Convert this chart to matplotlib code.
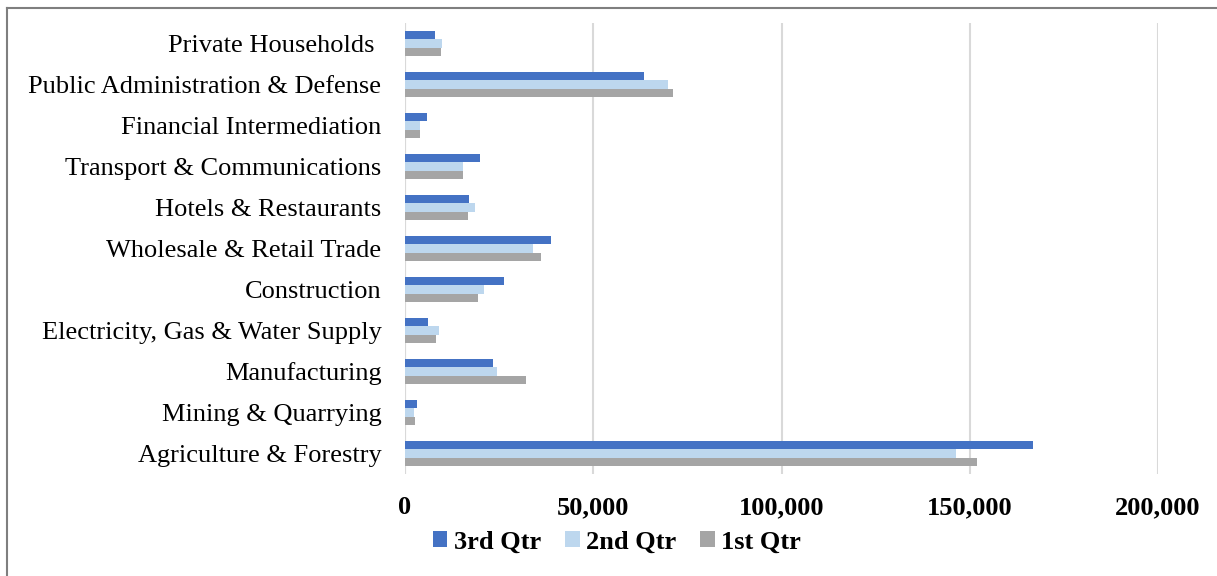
import numpy as np
import matplotlib.pyplot as plt
from matplotlib.lines import Line2D

# Employment by sector, three quarters
sectors = ['Private Households ', 'Public Administration & Defense', 'Financial Intermediation',
           'Transport & Communications', 'Hotels & Restaurants', 'Wholesale & Retail Trade',
           'Construction', 'Electricity, Gas & Water Supply', 'Manufacturing',
           'Mining & Quarrying', 'Agriculture & Forestry']
q3 = [8000, 63600, 5800, 19800, 17000, 38900, 26400, 6000, 23300, 3100, 166800]
q2 = [9800, 69900, 4100, 15500, 18500, 34100, 20900, 9000, 24500, 2300, 146300]
q1 = [9600, 71100, 4000, 15500, 16800, 36000, 19400, 8200, 32200, 2700, 152000]
series_names = ['3rd Qtr', '2nd Qtr', '1st Qtr']
colors = ['#4472C4', '#BDD7EE', '#A5A5A5']
xticks = [0, 50000, 100000, 150000, 200000]

plt.rcParams['font.family'] = ['Liberation Serif', 'DejaVu Serif']

fig = plt.figure(figsize=(12.17, 5.76), dpi=100)
ax = fig.add_axes([405/1217, 1 - 474/576, (1158-405)/1217, (474-23)/576])

y = np.arange(len(sectors))
h = 0.21
for i, (vals, name, c) in enumerate(zip([q3, q2, q1], series_names, colors)):
    ax.barh(y + (i - 1) * h, vals, height=h, color=c, label=name, zorder=3)

ax.set_ylim(len(sectors) - 0.5, -0.5)
ax.set_xlim(0, 200000)
ax.set_yticks(y)
ax.set_yticklabels(sectors, fontsize=19)
ax.set_xticks(xticks)
ax.set_xticklabels([f'{v:,}' for v in xticks], fontsize=19, fontweight='bold')
ax.tick_params(axis='y', length=0, pad=17)
ax.tick_params(axis='x', length=0, pad=16)
for s in ax.spines.values():
    s.set_visible(False)
ax.grid(axis='x', color='#D9D9D9', linewidth=1.5, zorder=0)
ax.axvline(0, color='#D9D9D9', linewidth=1.5, zorder=1)

fig.legend(loc='center', bbox_to_anchor=(617/1217, 1 - 542/576), ncol=3, frameon=False,
           prop={'size': 19, 'weight': 'bold'}, handlelength=0.55, handleheight=0.55,
           handletextpad=0.25, columnspacing=0.9)

# outer chart border (left and top only visible)
fig.add_artist(Line2D([6.5/1217, 6.5/1217], [0, 1 - 7.5/576], transform=fig.transFigure,
                      color='#7F7F7F', linewidth=1.5))
fig.add_artist(Line2D([6.5/1217, 1], [1 - 7.5/576, 1 - 7.5/576], transform=fig.transFigure,
                      color='#7F7F7F', linewidth=1.5))

fig.savefig('out.png', dpi=100)
